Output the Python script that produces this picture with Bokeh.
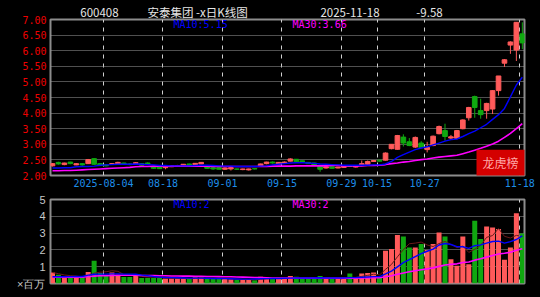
import pandas as pd
from bokeh.plotting import figure
from bokeh.layouts import column
from bokeh.models import (Range1d, FixedTicker, CustomJSTickFormatter, Label,
                          BoxAnnotation, ColumnDataSource, NumeralTickFormatter,
                          LinearAxis)
from bokeh.embed import file_html
from bokeh.resources import INLINE

# ---------------- data ----------------
open_ = [2.31, 2.42, 2.35, 2.43, 2.34, 2.38, 2.38, 2.54, 2.38, 2.34,
         2.36, 2.38, 2.40, 2.37, 2.38, 2.38, 2.40, 2.27, 2.27, 2.25,
         2.28, 2.30, 2.32, 2.37, 2.35, 2.37, 2.28, 2.25, 2.25, 2.20,
         2.21, 2.21, 2.19, 2.18, 2.22, 2.30, 2.38, 2.43, 2.36, 2.40,
         2.46, 2.52, 2.47, 2.42, 2.40, 2.30, 2.24, 2.28, 2.24, 2.26,
         2.31, 2.27, 2.34, 2.36, 2.45, 2.49, 2.49, 2.86, 2.84, 3.23,
         3.08, 2.91, 3.04, 2.83, 2.96, 3.34, 3.44, 3.20, 3.19, 3.50,
         3.85, 4.53, 4.08, 4.08, 4.13, 4.72, 5.60, 6.18, 6.02, 6.54]
close = [2.38, 2.37, 2.40, 2.38, 2.38, 2.34, 2.51, 2.36, 2.32, 2.31,
         2.38, 2.42, 2.36, 2.35, 2.41, 2.33, 2.37, 2.23, 2.22, 2.29,
         2.32, 2.32, 2.36, 2.31, 2.39, 2.42, 2.23, 2.21, 2.20, 2.24,
         2.25, 2.20, 2.21, 2.21, 2.21, 2.37, 2.43, 2.40, 2.42, 2.43,
         2.53, 2.44, 2.42, 2.38, 2.34, 2.20, 2.28, 2.23, 2.27, 2.29,
         2.29, 2.30, 2.38, 2.45, 2.48, 2.46, 2.72, 3.00, 3.28, 3.04,
         2.96, 3.22, 2.89, 2.90, 3.26, 3.57, 3.25, 3.24, 3.44, 3.78,
         4.18, 4.18, 3.95, 4.31, 4.72, 5.19, 5.71, 6.28, 6.91, 6.25]
high = [2.40, 2.44, 2.41, 2.44, 2.40, 2.40, 2.53, 2.56, 2.40, 2.36,
        2.40, 2.44, 2.41, 2.39, 2.43, 2.40, 2.42, 2.29, 2.29, 2.30,
        2.33, 2.34, 2.37, 2.38, 2.40, 2.43, 2.29, 2.27, 2.26, 2.26,
        2.27, 2.22, 2.22, 2.22, 2.23, 2.38, 2.44, 2.45, 2.43, 2.45,
        2.55, 2.53, 2.48, 2.43, 2.41, 2.31, 2.29, 2.29, 2.28, 2.31,
        2.33, 2.31, 2.48, 2.48, 2.49, 2.50, 2.74, 3.00, 3.30, 3.32,
        3.20, 3.25, 3.10, 3.08, 3.28, 3.60, 3.66, 3.30, 3.46, 3.80,
        4.20, 4.56, 4.46, 4.33, 4.74, 5.19, 5.73, 6.30, 6.91, 6.91]
low = [2.29, 2.35, 2.33, 2.36, 2.33, 2.31, 2.37, 2.34, 2.30, 2.29,
       2.34, 2.36, 2.34, 2.33, 2.36, 2.32, 2.35, 2.21, 2.21, 2.20,
       2.27, 2.29, 2.31, 2.30, 2.33, 2.36, 2.21, 2.18, 2.19, 2.18,
       2.16, 2.18, 2.17, 2.16, 2.19, 2.29, 2.36, 2.38, 2.35, 2.39,
       2.45, 2.42, 2.41, 2.37, 2.33, 2.12, 2.22, 2.22, 2.23, 2.24,
       2.27, 2.25, 2.33, 2.35, 2.44, 2.45, 2.48, 2.84, 2.83, 2.93,
       2.94, 2.88, 2.87, 2.74, 2.94, 3.32, 3.12, 3.14, 3.16, 3.48,
       3.76, 3.85, 3.82, 3.82, 3.97, 4.56, 5.48, 5.90, 5.67, 6.05]
volume = [0.65, 0.52, 0.35, 0.35, 0.35, 0.35, 0.69, 1.35, 0.62, 0.48,
          0.65, 0.52, 0.38, 0.38, 0.50, 0.33, 0.33, 0.33, 0.33, 0.30,
          0.30, 0.30, 0.30, 0.27, 0.37, 0.35, 0.30, 0.28, 0.28, 0.28,
          0.25, 0.22, 0.22, 0.22, 0.20, 0.40, 0.35, 0.30, 0.32, 0.30,
          0.45, 0.40, 0.31, 0.31, 0.30, 0.45, 0.31, 0.31, 0.31, 0.31,
          0.59, 0.31, 0.59, 0.62, 0.65, 0.40, 1.95, 2.05, 2.88, 2.80,
          2.15, 2.15, 2.35, 2.00, 2.35, 3.04, 2.80, 1.45, 1.05, 2.80,
          1.15, 3.74, 2.65, 3.40, 3.34, 3.24, 1.41, 2.15, 4.18, 2.98]
ma10 = [2.24, 2.24, 2.25, 2.25, 2.28, 2.29, 2.29, 2.30, 2.33, 2.34,
        2.35, 2.36, 2.36, 2.36, 2.37, 2.36, 2.35, 2.34, 2.32, 2.32,
        2.31, 2.31, 2.31, 2.31, 2.32, 2.33, 2.33, 2.32, 2.31, 2.30,
        2.30, 2.29, 2.29, 2.29, 2.29, 2.30, 2.31, 2.34, 2.36, 2.38,
        2.40, 2.41, 2.41, 2.40, 2.39, 2.37, 2.36, 2.35, 2.34, 2.33,
        2.33, 2.33, 2.33, 2.33, 2.34, 2.34, 2.37, 2.45, 2.58, 2.67,
        2.75, 2.83, 2.88, 2.92, 2.98, 3.04, 3.10, 3.15, 3.17, 3.25,
        3.34, 3.42, 3.53, 3.64, 3.80, 3.95, 4.15, 4.52, 4.90, 5.15]
ma30 = [2.15, 2.15, 2.16, 2.16, 2.17, 2.18, 2.19, 2.20, 2.21, 2.22,
        2.23, 2.24, 2.25, 2.26, 2.28, 2.29, 2.29, 2.30, 2.30, 2.30,
        2.30, 2.30, 2.30, 2.30, 2.30, 2.30, 2.30, 2.29, 2.29, 2.29,
        2.29, 2.29, 2.29, 2.29, 2.29, 2.29, 2.29, 2.30, 2.30, 2.30,
        2.30, 2.31, 2.31, 2.31, 2.31, 2.31, 2.31, 2.32, 2.32, 2.31,
        2.31, 2.31, 2.31, 2.32, 2.32, 2.33, 2.35, 2.38, 2.40, 2.43,
        2.45, 2.48, 2.51, 2.53, 2.56, 2.59, 2.61, 2.63, 2.65, 2.70,
        2.75, 2.81, 2.87, 2.94, 3.01, 3.10, 3.22, 3.35, 3.50, 3.66]
vma10 = [0.40, 0.40, 0.40, 0.41, 0.42, 0.42, 0.50, 0.55, 0.56, 0.56,
         0.57, 0.57, 0.56, 0.56, 0.55, 0.50, 0.47, 0.42, 0.38, 0.36,
         0.35, 0.34, 0.33, 0.32, 0.32, 0.32, 0.31, 0.30, 0.30, 0.29,
         0.28, 0.27, 0.26, 0.26, 0.27, 0.28, 0.29, 0.30, 0.30, 0.31,
         0.32, 0.33, 0.33, 0.33, 0.33, 0.34, 0.33, 0.33, 0.33, 0.33,
         0.35, 0.35, 0.37, 0.39, 0.41, 0.41, 0.57, 0.74, 0.99, 1.24,
         1.42, 1.60, 1.78, 1.92, 2.05, 2.29, 2.38, 2.32, 2.19, 2.19,
         2.09, 2.25, 2.30, 2.40, 2.50, 2.52, 2.40, 2.49, 2.62, 2.84]
vma30 = [0.38, 0.38, 0.38, 0.38, 0.38, 0.38, 0.42, 0.44, 0.46, 0.47,
         0.48, 0.49, 0.49, 0.49, 0.49, 0.48, 0.47, 0.47, 0.46, 0.46,
         0.45, 0.45, 0.44, 0.44, 0.43, 0.43, 0.42, 0.42, 0.41, 0.40,
         0.40, 0.39, 0.38, 0.37, 0.36, 0.35, 0.34, 0.33, 0.33, 0.32,
         0.32, 0.31, 0.31, 0.31, 0.31, 0.31, 0.31, 0.31, 0.31, 0.31,
         0.32, 0.32, 0.33, 0.33, 0.34, 0.34, 0.40, 0.46, 0.55, 0.63,
         0.70, 0.76, 0.82, 0.87, 0.93, 1.02, 1.10, 1.14, 1.17, 1.25,
         1.28, 1.39, 1.47, 1.57, 1.67, 1.76, 1.80, 1.86, 1.98, 2.07]

date_tick_idx = [9, 19, 29, 39, 49, 55, 63, 79]
date_tick_labels = ["2025-08-04", "08-18", "09-01", "09-15", "09-29",
                    "10-15", "10-27", "11-18"]
price_ticks = [2.0, 2.5, 3.0, 3.5, 4.0, 4.5, 5.0, 5.5, 6.0, 6.5, 7.0]
vol_ticks = [0, 1, 2, 3, 4, 5]
vol_unit = "×百万"

title_texts = ["600408", "安泰集团 -x日K线图", "2025-11-18", "-9.58"]
ma10_last, ma30_last = "5.15", "3.66"
vma10_last, vma30_last = "2", "2"

# ---------------- styling ----------------
BG = "#000000"
RED = "#ff5a5a"
GREEN = "#10a810"
BLUE = "#0000ff"
MAGENTA = "#ff00ff"
FRAME = "#8c8c8c"

idx = list(range(len(close)))
colors = [RED if c >= o else GREEN for o, c in zip(open_, close)]
src = ColumnDataSource(dict(
    x=idx, open=open_, close=close, high=high, low=low,
    top=[max(o, c) for o, c in zip(open_, close)],
    bot=[min(o, c) for o, c in zip(open_, close)],
    vol=volume, color=colors, ma10=ma10, ma30=ma30,
    vma10=vma10, vma30=vma30,
    vma5=pd.Series(volume).rolling(5, min_periods=1).mean().tolist(),
))

# pixel -> data helpers for annotation placement
PX0, PXS = 52.0, 5.947
def xpx(px):
    return (px - PX0) / PXS
def ytop(py):
    return 7.0 - (py - 18) / 31.4
def ybot(py):
    return 5.0 - (py - 199) / 16.8

x_range = Range1d(-2.0 / PXS, -2.0 / PXS + 474 / PXS)
grid_x = [i - 0.42 for i in date_tick_idx]
title_centers_px = [99, 197, 349.5, 429]
title_ticks = [xpx(p) for p in title_centers_px]

def no_ticks(ax):
    ax.axis_line_color = None
    ax.major_tick_line_color = None
    ax.minor_tick_line_color = None
    ax.major_tick_out = 0
    ax.major_tick_in = 0
    ax.minor_tick_out = 0
    ax.minor_tick_in = 0

top = figure(width=540, height=193, x_range=x_range, y_range=Range1d(2.0, 7.0),
             output_backend="svg", toolbar_location=None,
             min_border_left=50, min_border_right=16, min_border_top=18,
             min_border_bottom=18, background_fill_color=BG,
             border_fill_color=BG, outline_line_color=FRAME,
             outline_line_width=2, styles={"background-color": BG})

top.ygrid.ticker = FixedTicker(ticks=price_ticks[1:-1])
top.ygrid.grid_line_color = "#a0a0a0"
top.ygrid.grid_line_dash = "1 1"
top.xgrid.ticker = FixedTicker(ticks=grid_x)
top.xgrid.grid_line_color = "#d0d0d0"
top.xgrid.grid_line_dash = "4 5"

top.yaxis.ticker = FixedTicker(ticks=price_ticks)
top.yaxis.formatter = NumeralTickFormatter(format="0.00")
top.yaxis.major_label_text_color = "#ee0000"
top.yaxis.major_label_text_font = "DejaVu Sans Mono"
top.yaxis.major_label_text_font_size = "10px"
top.yaxis.major_label_standoff = 4
top.xaxis.ticker = FixedTicker(ticks=grid_x)
top.xaxis.formatter = CustomJSTickFormatter(
    args=dict(idx=date_tick_idx, labels=date_tick_labels),
    code="const k = idx.indexOf(Math.round(tick)); return k >= 0 ? labels[k] : '';")
top.xaxis.major_label_text_color = "#1e8ee8"
top.xaxis.major_label_text_font = "DejaVu Sans Mono"
top.xaxis.major_label_text_font_size = "10px"
top.xaxis.major_label_standoff = 3
no_ticks(top.xaxis[0])
no_ticks(top.yaxis[0])

# title row as an axis above the price panel
title_axis = LinearAxis(ticker=FixedTicker(ticks=title_ticks),
                        formatter=CustomJSTickFormatter(
                            args=dict(pos=title_ticks, labels=title_texts),
                            code="""let best = 0, d = 1e9;
for (let k = 0; k < pos.length; k++) { const e = Math.abs(pos[k] - tick); if (e < d) { d = e; best = k; } }
return labels[best];"""),
                        major_label_text_color="#e6e6e6",
                        major_label_text_font="Noto Sans CJK SC",
                        major_label_text_font_size="11.5px",
                        major_label_text_line_height=1.0,
                        major_label_standoff=0)
no_ticks(title_axis)
top.add_layout(title_axis, "above")

top.segment(x0="x", y0="high", x1="x", y1="low", color="color", line_width=1, source=src)
top.vbar(x="x", top="top", bottom="bot", width=0.78, fill_color="color",
         line_color="color", line_width=1, source=src)
top.line(x="x", y="ma30", color=MAGENTA, line_width=1.6, source=src)
top.line(x="x", y="ma10", color=BLUE, line_width=1.4, source=src)

top.add_layout(BoxAnnotation(left=xpx(476), right=xpx(526), top=ytop(149), bottom=ytop(176),
                             fill_color="#d40000", fill_alpha=1.0, line_color=None))
top.add_layout(Label(x=xpx(500), y=ytop(162), text="龙虎榜", text_align="center",
                     text_baseline="middle", text_color="#ffa8a8",
                     text_font="Noto Sans CJK SC", text_font_size="12px"))
top.add_layout(Label(x=xpx(173), y=ytop(23), text="MA10:" + ma10_last, text_align="left",
                     text_baseline="middle", text_color=BLUE,
                     text_font="DejaVu Sans Mono", text_font_size="10px"))
top.add_layout(Label(x=xpx(292), y=ytop(23), text="MA30:" + ma30_last, text_align="left",
                     text_baseline="middle", text_color=MAGENTA,
                     text_font="DejaVu Sans Mono", text_font_size="10px"))

bot = figure(width=540, height=104, x_range=x_range, y_range=Range1d(0, 5.0),
             output_backend="svg", toolbar_location=None,
             min_border_left=50, min_border_right=16, min_border_top=6,
             min_border_bottom=14, background_fill_color=BG,
             border_fill_color=BG, outline_line_color=FRAME,
             outline_line_width=2, styles={"background-color": BG})
bot.xaxis.visible = False
bot.ygrid.ticker = FixedTicker(ticks=vol_ticks[1:-1])
bot.ygrid.grid_line_color = "#a0a0a0"
bot.ygrid.grid_line_dash = "1 1"
bot.xgrid.ticker = FixedTicker(ticks=grid_x)
bot.xgrid.grid_line_color = "#d0d0d0"
bot.xgrid.grid_line_dash = "4 5"
bot.yaxis.ticker = FixedTicker(ticks=vol_ticks)
bot.yaxis.formatter = CustomJSTickFormatter(
    args=dict(unit=vol_unit),
    code="return Math.abs(tick) < 1e-9 ? unit : String(Math.round(tick));")
bot.yaxis.major_label_text_color = "#c8c8c8"
bot.yaxis.major_label_text_font = "Liberation Sans"
bot.yaxis.major_label_text_font_size = "11px"
bot.yaxis.major_label_standoff = 5
no_ticks(bot.yaxis[0])

bot.vbar(x="x", top="vol", bottom=0, width=0.84, fill_color="color",
         line_color=None, source=src)
bot.line(x="x", y="vma5", color="#6a1a1a", line_width=1, source=src)
bot.line(x="x", y="vma30", color=MAGENTA, line_width=1.6, source=src)
bot.line(x="x", y="vma10", color=BLUE, line_width=1.4, source=src)

bot.add_layout(Label(x=xpx(173), y=ybot(204), text="MA10:" + vma10_last, text_align="left",
                     text_baseline="middle", text_color=BLUE,
                     text_font="DejaVu Sans Mono", text_font_size="10px"))
bot.add_layout(Label(x=xpx(292), y=ybot(204), text="MA30:" + vma30_last, text_align="left",
                     text_baseline="middle", text_color=MAGENTA,
                     text_font="DejaVu Sans Mono", text_font_size="10px"))

page = column(top, bot, spacing=0, styles={"background-color": BG})
open("out.html", "w").write(file_html(page, INLINE))
